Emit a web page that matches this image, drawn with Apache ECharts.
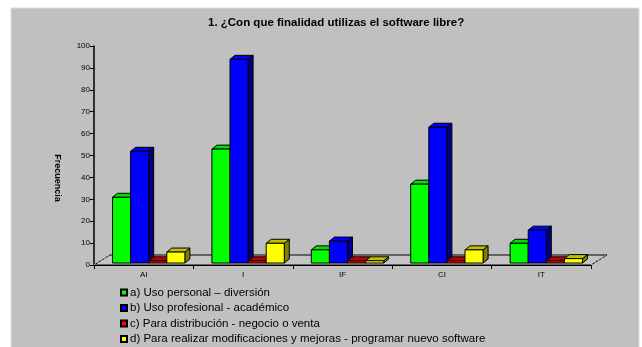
<!DOCTYPE html>
<html>
<head>
<meta charset="utf-8">
<script src="https://cdn.jsdelivr.net/npm/echarts@6/dist/echarts.min.js"></script>
<style>
  html, body { margin: 0; padding: 0; background: #ffffff; }
  #chart { width: 642px; height: 347px; }
</style>
</head>
<body>
<div id="chart"></div>
<script>
// Survey: purpose for using free software, by group
const categories = ['AI', 'I', 'IF', 'CI', 'IT'];
const seriesNames = [
  'a) Uso personal – diversión',
  'b) Uso profesional - académico',
  'c) Para distribución - negocio o venta',
  'd) Para realizar modificaciones y mejoras - programar nuevo software'
];
const usoPersonal     = [30, 52, 6, 36, 9];
const usoProfesional  = [51, 93, 10, 62, 15];
const distribucion    = [1, 1, 1, 1, 1];
const modificaciones  = [5, 9, 1, 6, 2];
const yTicks = [0, 10, 20, 30, 40, 50, 60, 70, 80, 90, 100];

const values = [usoPersonal, usoProfesional, distribucion, modificaciones];
// front, top, side face colours per series
const palette = [
  ['#00ff00', '#00e000', '#008000'],
  ['#0000ff', '#0000ff', '#000080'],
  ['#ff0000', '#c00000', '#800000'],
  ['#ffff00', '#c0c000', '#808000']
];

const DX = 5, DY = -4;        // bar depth offset
const FDX = 16, FDY = -10;    // floor depth offset

function barRenderer(sIdx) {
  return function (params, api) {
    const cat = api.value(0);
    const v = api.value(1);
    const base = api.coord([cat, 0]);
    const top = api.coord([cat, v]);
    const catW = api.size([1, 0])[0];
    const w = catW * 0.182;
    const x0 = base[0] - 2 * w + sIdx * w + 5;
    const yB = base[1] - 2;
    const yT = top[1] - 2;
    const c = palette[sIdx];
    const stroke = { stroke: '#000', lineWidth: 1 };
    return {
      type: 'group',
      children: [
        { type: 'polygon', shape: { points: [[x0 + w, yT], [x0 + w + DX, yT + DY], [x0 + w + DX, yB + DY], [x0 + w, yB]] },
          style: Object.assign({ fill: c[2] }, stroke) },
        { type: 'polygon', shape: { points: [[x0, yT], [x0 + DX, yT + DY], [x0 + w + DX, yT + DY], [x0 + w, yT]] },
          style: Object.assign({ fill: c[1] }, stroke) },
        { type: 'rect', shape: { x: x0, y: yT, width: w, height: yB - yT },
          style: Object.assign({ fill: c[0] }, stroke) }
      ]
    };
  };
}

function floorRenderer(params, api) {
  const l = api.coord([0, 0]);
  const r = api.coord([categories.length - 1, 0]);
  const catW = api.size([1, 0])[0];
  const x1 = l[0] - catW / 2, x2 = r[0] + catW / 2, y = l[1];
  return {
    type: 'group',
    children: [
      { type: 'polygon', shape: { points: [[x1, y], [x1 + FDX, y + FDY], [x2 + FDX, y + FDY], [x2, y]] },
        style: { fill: '#c4c4c4', stroke: '#000', lineWidth: 1 } },
      { type: 'line', shape: { x1: x1, y1: y, x2: x1 + FDX, y2: y + FDY },
        style: { stroke: '#c0c0c0', lineWidth: 1, lineDash: [2, 2] } },
      { type: 'line', shape: { x1: x2, y1: y, x2: x2 + FDX, y2: y + FDY },
        style: { stroke: '#c0c0c0', lineWidth: 1, lineDash: [2, 2] } }
    ]
  };
}

const font = 'Liberation Sans, Arial, sans-serif';

const series = [{
  type: 'custom',
  silent: true,
  renderItem: floorRenderer,
  data: [[0, 0]],
  z: 1
}];
values.forEach(function (vals, s) {
  series.push({
    name: seriesNames[s],
    type: 'custom',
    renderItem: barRenderer(s),
    itemStyle: { color: palette[s][0], borderColor: '#000', borderWidth: 1 },
    encode: { x: 0, y: 1 },
    data: vals.map(function (v, i) { return [i, v]; }),
    z: 2 + s
  });
});

const chart = echarts.init(document.getElementById('chart'), null, { renderer: 'canvas' });
chart.setOption({
  animation: false,
  backgroundColor: '#ffffff',
  graphic: [{
    type: 'rect', z: -10, silent: true,
    shape: { x: 11, y: 8, width: 628, height: 345 },
    style: { fill: '#c0c0c0', stroke: '#dcdcdc', lineWidth: 1 }
  }, {
    type: 'text', silent: true,
    x: 57, y: 178, rotation: -Math.PI / 2,
    style: {
      text: 'Frecuencia', align: 'center', verticalAlign: 'middle',
      font: 'bold 9px ' + font, fill: '#000'
    }
  }],
  title: {
    text: '1. ¿Con que finalidad utilizas el software libre?',
    left: 203, top: 12,
    textStyle: { fontFamily: font, fontSize: 11.5, fontWeight: 'bold', color: '#000' }
  },
  grid: { left: 94, right: 51, top: 46, bottom: 82 },
  xAxis: {
    type: 'category',
    data: categories,
    axisLine: { show: true, lineStyle: { color: '#000', width: 1 } },
    axisTick: { show: true, length: 4, lineStyle: { color: '#000' } },
    axisLabel: { fontFamily: font, fontSize: 8, color: '#000', margin: 6 },
    splitLine: { show: false }
  },
  yAxis: {
    type: 'value',
    min: yTicks[0], max: yTicks[yTicks.length - 1], interval: 10,
    axisLine: { show: true, lineStyle: { color: '#000', width: 1.5 } },
    axisTick: { show: true, length: 4, lineStyle: { color: '#000' } },
    axisLabel: { fontFamily: font, fontSize: 8, color: '#000', margin: 4 },
    splitLine: { show: false }
  },
  legend: {
    orient: 'vertical',
    left: 120, top: 286,
    padding: 0,
    itemWidth: 6, itemHeight: 6, itemGap: 2.5,
    icon: 'rect',
    data: seriesNames,
    textStyle: { fontFamily: font, fontSize: 11.5, lineHeight: 13, color: '#000', padding: [0, 0, 0, -2] }
  },
  series: series
});
</script>
</body>
</html>
